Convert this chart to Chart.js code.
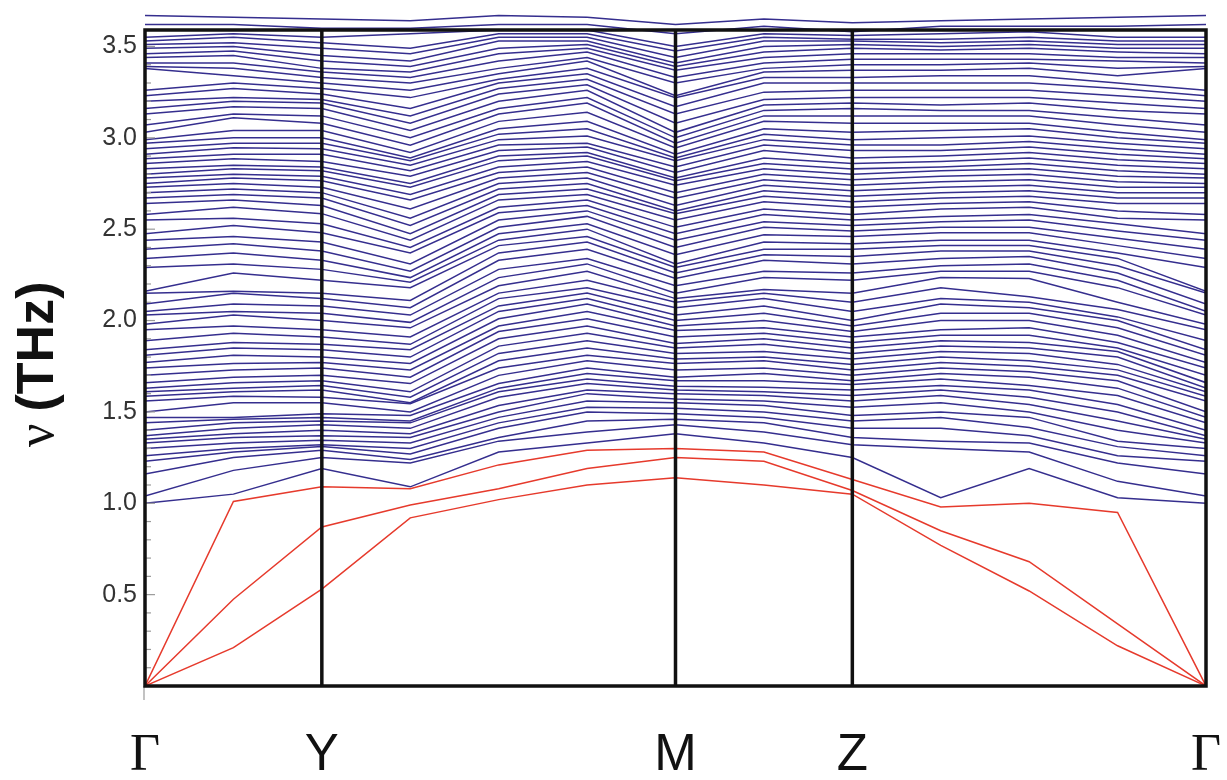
<!DOCTYPE html>
<html>
<head>
<meta charset="utf-8">
<title>Phonon dispersion</title>
<script src="https://cdn.jsdelivr.net/npm/chart.js@4.4.1/dist/chart.umd.min.js"></script>
<style>
  html, body { margin: 0; padding: 0; background: #fff; }
</style>
</head>
<body>
<canvas id="bands" width="1227" height="780"></canvas>
<script>
// k-path: 13 points, Γ - Y - M - Z - Γ
const kPos = [0, 1, 2, 3, 4, 5, 6, 7, 8, 9, 10, 11, 12];
const kTicks = [0, 2, 6, 8, 12];
const kLabels = ['Γ', 'Y', 'M', 'Z', 'Γ'];
const yTicks = [0.5, 1.0, 1.5, 2.0, 2.5, 3.0, 3.5];

// acoustic branches (THz)
const acousticA = [0, 1.01, 1.09, 1.08, 1.21, 1.29, 1.30, 1.28, 1.13, 0.98, 1.00, 0.95, 0];
const acousticB = [0, 0.475, 0.87, 0.99, 1.08, 1.19, 1.25, 1.23, 1.07, 0.85, 0.68, 0.34, 0];
const acousticC = [0, 0.21, 0.53, 0.92, 1.02, 1.10, 1.14, 1.10, 1.05, 0.77, 0.52, 0.22, 0];

// optical branches, frequencies (THz) at each k point, low -> high
const fGamma = [1.00, 1.04, 1.16, 1.23, 1.26, 1.30, 1.33, 1.35, 1.37, 1.40,
  1.44, 1.47, 1.50, 1.56, 1.585, 1.61, 1.63, 1.66, 1.70, 1.74,
  1.77, 1.81, 1.84, 1.89, 1.95, 1.98, 2.03, 2.05, 2.09, 2.15,
  2.16, 2.29, 2.34, 2.39, 2.44, 2.475, 2.55, 2.58, 2.64, 2.67,
  2.70, 2.73, 2.75, 2.78, 2.80, 2.83, 2.86, 2.885, 2.91, 2.94,
  2.97, 2.99, 3.03, 3.07, 3.13, 3.16, 3.20, 3.23, 3.26, 3.38,
  3.39, 3.41, 3.44, 3.46, 3.49, 3.51, 3.53, 3.55, 3.62, 3.67];
const fK1 = [1.05, 1.18, 1.25, 1.28, 1.30, 1.33, 1.36, 1.38, 1.41, 1.44,
  1.46, 1.47, 1.55, 1.585, 1.61, 1.63, 1.66, 1.69, 1.73, 1.765,
  1.81, 1.85, 1.88, 1.93, 1.97, 2.03, 2.05, 2.09, 2.15, 2.16,
  2.26, 2.31, 2.37, 2.42, 2.46, 2.52, 2.56, 2.62, 2.66, 2.69,
  2.72, 2.75, 2.78, 2.80, 2.83, 2.85, 2.885, 2.91, 2.945, 2.97,
  3.00, 3.04, 3.11, 3.13, 3.17, 3.20, 3.22, 3.27, 3.30, 3.34,
  3.38, 3.41, 3.45, 3.475, 3.50, 3.52, 3.55, 3.57, 3.62, 3.66];
const fY = [1.19, 1.25, 1.29, 1.31, 1.32, 1.345, 1.37, 1.40, 1.43, 1.45,
  1.47, 1.49, 1.55, 1.58, 1.62, 1.645, 1.67, 1.70, 1.74, 1.77,
  1.80, 1.84, 1.87, 1.91, 1.95, 2.00, 2.04, 2.08, 2.12, 2.15,
  2.22, 2.28, 2.33, 2.38, 2.43, 2.48, 2.53, 2.585, 2.63, 2.67,
  2.70, 2.73, 2.765, 2.79, 2.82, 2.84, 2.87, 2.91, 2.94, 2.97,
  3.00, 3.04, 3.08, 3.12, 3.16, 3.19, 3.21, 3.24, 3.27, 3.30,
  3.33, 3.36, 3.38, 3.42, 3.45, 3.49, 3.52, 3.55, 3.60, 3.65];
const fK3 = [1.09, 1.22, 1.24, 1.27, 1.30, 1.33, 1.36, 1.38, 1.41, 1.44,
  1.45, 1.48, 1.50, 1.545, 1.55, 1.58, 1.61, 1.655, 1.69, 1.73,
  1.765, 1.80, 1.84, 1.87, 1.91, 1.96, 1.99, 2.03, 2.07, 2.11,
  2.18, 2.21, 2.235, 2.27, 2.31, 2.37, 2.40, 2.44, 2.475, 2.52,
  2.56, 2.61, 2.66, 2.69, 2.73, 2.75, 2.79, 2.82, 2.85, 2.875,
  2.89, 2.92, 2.96, 3.00, 3.04, 3.08, 3.12, 3.16, 3.22, 3.26,
  3.30, 3.33, 3.36, 3.39, 3.42, 3.46, 3.49, 3.57, 3.60, 3.64];
const fK4 = [1.28, 1.34, 1.36, 1.41, 1.44, 1.47, 1.50, 1.535, 1.58, 1.61,
  1.63, 1.655, 1.70, 1.74, 1.78, 1.82, 1.86, 1.90, 1.94, 1.97,
  2.01, 2.05, 2.08, 2.12, 2.15, 2.19, 2.235, 2.28, 2.33, 2.37,
  2.41, 2.44, 2.475, 2.51, 2.55, 2.59, 2.62, 2.66, 2.69, 2.72,
  2.75, 2.78, 2.81, 2.84, 2.875, 2.90, 2.93, 2.96, 2.99, 3.02,
  3.05, 3.09, 3.13, 3.16, 3.20, 3.24, 3.27, 3.30, 3.32, 3.35,
  3.38, 3.42, 3.46, 3.49, 3.53, 3.55, 3.57, 3.59, 3.62, 3.67];
const fK5 = [1.33, 1.39, 1.45, 1.50, 1.525, 1.56, 1.60, 1.62, 1.655, 1.68,
  1.71, 1.74, 1.78, 1.81, 1.85, 1.89, 1.93, 1.97, 2.01, 2.05,
  2.09, 2.12, 2.15, 2.18, 2.22, 2.27, 2.31, 2.34, 2.39, 2.43,
  2.46, 2.50, 2.53, 2.57, 2.60, 2.63, 2.66, 2.69, 2.72, 2.75,
  2.78, 2.81, 2.84, 2.87, 2.90, 2.92, 2.95, 2.97, 3.01, 3.05,
  3.09, 3.14, 3.19, 3.22, 3.26, 3.29, 3.32, 3.35, 3.38, 3.42,
  3.44, 3.47, 3.49, 3.51, 3.53, 3.55, 3.57, 3.59, 3.62, 3.66];
const fM = [1.38, 1.43, 1.46, 1.49, 1.52, 1.55, 1.57, 1.60, 1.62, 1.64,
  1.67, 1.69, 1.73, 1.765, 1.79, 1.82, 1.85, 1.875, 1.91, 1.945,
  1.97, 2.00, 2.03, 2.07, 2.10, 2.12, 2.15, 2.19, 2.23, 2.26,
  2.29, 2.31, 2.36, 2.40, 2.44, 2.475, 2.51, 2.55, 2.585, 2.60,
  2.63, 2.67, 2.70, 2.74, 2.765, 2.78, 2.81, 2.84, 2.875, 2.89,
  2.91, 2.945, 2.97, 3.00, 3.03, 3.08, 3.13, 3.17, 3.22, 3.23,
  3.30, 3.33, 3.37, 3.39, 3.41, 3.44, 3.475, 3.50, 3.57, 3.62];
const fK7 = [1.33, 1.39, 1.44, 1.47, 1.50, 1.535, 1.56, 1.59, 1.61, 1.635,
  1.67, 1.71, 1.74, 1.78, 1.80, 1.83, 1.87, 1.90, 1.93, 1.96,
  2.00, 2.04, 2.08, 2.12, 2.15, 2.17, 2.235, 2.27, 2.33, 2.36,
  2.39, 2.43, 2.47, 2.51, 2.54, 2.58, 2.61, 2.65, 2.68, 2.71,
  2.74, 2.77, 2.80, 2.83, 2.86, 2.89, 2.93, 2.96, 2.99, 3.02,
  3.05, 3.09, 3.12, 3.15, 3.18, 3.21, 3.25, 3.30, 3.33, 3.36,
  3.38, 3.41, 3.44, 3.47, 3.50, 3.53, 3.55, 3.57, 3.61, 3.65];
const fZ = [1.25, 1.32, 1.36, 1.41, 1.45, 1.48, 1.525, 1.56, 1.59, 1.62,
  1.65, 1.67, 1.70, 1.73, 1.76, 1.79, 1.82, 1.85, 1.88, 1.91,
  1.94, 1.97, 2.00, 2.05, 2.10, 2.15, 2.22, 2.26, 2.31, 2.35,
  2.39, 2.42, 2.46, 2.49, 2.52, 2.55, 2.58, 2.62, 2.65, 2.68,
  2.71, 2.74, 2.77, 2.80, 2.83, 2.86, 2.89, 2.93, 2.96, 2.99,
  3.03, 3.08, 3.12, 3.16, 3.19, 3.22, 3.26, 3.30, 3.33, 3.37,
  3.40, 3.43, 3.46, 3.49, 3.51, 3.53, 3.54, 3.56, 3.58, 3.63];
const fK9 = [1.03, 1.30, 1.34, 1.41, 1.47, 1.50, 1.55, 1.59, 1.62, 1.645,
  1.68, 1.71, 1.74, 1.77, 1.80, 1.83, 1.86, 1.89, 1.92, 1.95,
  2.00, 2.04, 2.09, 2.12, 2.18, 2.235, 2.27, 2.30, 2.34, 2.38,
  2.41, 2.44, 2.48, 2.51, 2.54, 2.57, 2.61, 2.64, 2.67, 2.70,
  2.73, 2.76, 2.79, 2.82, 2.84, 2.87, 2.90, 2.93, 2.96, 3.00,
  3.04, 3.08, 3.12, 3.15, 3.18, 3.22, 3.26, 3.30, 3.34, 3.37,
  3.40, 3.43, 3.46, 3.48, 3.50, 3.52, 3.54, 3.57, 3.61, 3.64];
const fK10 = [1.19, 1.28, 1.33, 1.37, 1.415, 1.47, 1.50, 1.54, 1.58, 1.62,
  1.645, 1.69, 1.72, 1.75, 1.78, 1.82, 1.85, 1.88, 1.92, 1.96,
  2.00, 2.04, 2.07, 2.10, 2.13, 2.23, 2.27, 2.31, 2.35, 2.38,
  2.41, 2.44, 2.48, 2.51, 2.55, 2.58, 2.62, 2.65, 2.68, 2.71,
  2.74, 2.77, 2.80, 2.83, 2.86, 2.89, 2.92, 2.95, 2.98, 3.01,
  3.05, 3.08, 3.12, 3.15, 3.19, 3.22, 3.26, 3.30, 3.34, 3.38,
  3.41, 3.43, 3.46, 3.49, 3.51, 3.53, 3.55, 3.58, 3.61, 3.65];
const fK11 = [1.03, 1.12, 1.22, 1.26, 1.31, 1.34, 1.40, 1.45, 1.50, 1.54,
  1.59, 1.63, 1.67, 1.70, 1.73, 1.76, 1.80, 1.83, 1.85, 1.88,
  1.92, 1.96, 2.00, 2.02, 2.06, 2.10, 2.18, 2.22, 2.26, 2.30,
  2.34, 2.37, 2.41, 2.45, 2.49, 2.53, 2.56, 2.60, 2.64, 2.67,
  2.70, 2.73, 2.76, 2.79, 2.82, 2.85, 2.88, 2.91, 2.94, 2.97,
  3.00, 3.03, 3.07, 3.11, 3.15, 3.19, 3.23, 3.27, 3.30, 3.34,
  3.38, 3.42, 3.44, 3.47, 3.49, 3.51, 3.53, 3.55, 3.61, 3.66];
const fGammaEnd = [1.00, 1.04, 1.16, 1.23, 1.26, 1.30, 1.33, 1.35, 1.37, 1.40,
  1.44, 1.47, 1.50, 1.56, 1.585, 1.61, 1.63, 1.66, 1.70, 1.74,
  1.77, 1.81, 1.84, 1.89, 1.95, 1.98, 2.03, 2.05, 2.09, 2.15,
  2.16, 2.29, 2.34, 2.39, 2.44, 2.475, 2.55, 2.58, 2.64, 2.67,
  2.70, 2.73, 2.75, 2.78, 2.80, 2.83, 2.86, 2.885, 2.91, 2.94,
  2.97, 2.99, 3.03, 3.07, 3.13, 3.16, 3.20, 3.23, 3.26, 3.38,
  3.39, 3.41, 3.44, 3.46, 3.49, 3.51, 3.53, 3.55, 3.62, 3.67];

const columns = [fGamma, fK1, fY, fK3, fK4, fK5, fM, fK7, fZ, fK9, fK10, fK11, fGammaEnd];

const BLUE = '#352e8e';
const RED = '#e63a2c';

const datasets = [];
// acoustic first so they end up on top
[acousticA, acousticB, acousticC].forEach(arr => {
  datasets.push({
    data: arr.map((v, i) => ({ x: kPos[i], y: v })),
    borderColor: RED,
    borderWidth: 1.5,
    pointRadius: 0,
    tension: 0,
    fill: false
  });
});
for (let b = 0; b < fGamma.length; b++) {
  datasets.push({
    data: columns.map((col, i) => ({ x: kPos[i], y: col[b] })),
    borderColor: BLUE,
    borderWidth: 1.5,
    pointRadius: 0,
    tension: 0,
    fill: false,
    clip: { left: 0, top: 18, right: 0, bottom: 0 }  // top bands poke out above the frame
  });
}

// рамка, линии высокосимметричных точек и мелкие засечки на оси
const framePlugin = {
  id: 'frame',
  afterDatasetsDraw(chart) {
    const { ctx, chartArea: a, scales: { x, y } } = chart;
    ctx.save();
    ctx.strokeStyle = '#9a9a9a';
    ctx.lineWidth = 1.2;
    for (let i = 1; i <= 35; i++) {
      const py = y.getPixelForValue(i / 10);
      const len = i % 5 === 0 ? 10 : 6;
      ctx.beginPath();
      ctx.moveTo(a.left, py);
      ctx.lineTo(a.left + len, py);
      ctx.stroke();
    }
    ctx.beginPath();
    ctx.moveTo(a.left - 1, a.bottom);
    ctx.lineTo(a.left - 1, a.bottom + 14);
    ctx.stroke();

    ctx.strokeStyle = '#111';
    ctx.lineWidth = 3.5;
    kTicks.slice(1, -1).forEach(k => {
      const px = x.getPixelForValue(k);
      ctx.beginPath();
      ctx.moveTo(px, a.top);
      ctx.lineTo(px, a.bottom);
      ctx.stroke();
    });
    ctx.strokeRect(a.left, a.top, a.right - a.left, a.bottom - a.top);
    ctx.restore();
  },
  afterDraw(chart) {
    // y-axis title: serif nu + bold sans "(THz)"
    const ctx = chart.ctx;
    ctx.save();
    ctx.translate(53, 447);
    ctx.rotate(-Math.PI / 2);
    ctx.fillStyle = '#111';
    ctx.textBaseline = 'alphabetic';
    ctx.textAlign = 'left';
    ctx.font = '52px "Liberation Serif"';
    ctx.fillText('ν', 0, 0);
    const w = ctx.measureText('ν').width;
    ctx.font = 'bold 52px "Liberation Sans"';
    ctx.fillText('(THz)', w + 12, 0);
    ctx.restore();
  }
};

new Chart(document.getElementById('bands'), {
  type: 'line',
  data: { datasets: datasets },
  options: {
    responsive: false,
    animation: false,
    devicePixelRatio: 1,
    layout: { padding: { top: 30, right: 21, left: 0, bottom: 0 } },
    plugins: {
      legend: { display: false },
      tooltip: { enabled: false }
    },
    scales: {
      x: {
        type: 'linear',
        min: 0,
        max: 12,
        grid: { display: false, drawTicks: false },
        border: { display: false },
        afterBuildTicks: (s) => { s.ticks = kTicks.map(v => ({ value: v })); },
        afterFit: (s) => {
          s.height = 94;
          s.paddingLeft = 0;
          s.paddingRight = 0;
        },
        ticks: {
          autoSkip: false,
          maxRotation: 0,
          padding: 39,
          color: '#111',
          callback: (v) => kLabels[kTicks.indexOf(v)],
          font: (ctx) => {
            const lbl = kLabels[kTicks.indexOf(ctx.tick ? ctx.tick.value : -1)];
            return lbl === 'Γ'
              ? { family: '"Liberation Serif"', size: 52 }
              : { family: '"Liberation Sans"', size: 51 };
          }
        }
      },
      y: {
        min: 0,
        max: 3.59,
        grid: { display: false, drawTicks: false },
        border: { display: false },
        afterBuildTicks: (s) => { s.ticks = yTicks.map(v => ({ value: v })); },
        afterFit: (s) => { s.width = 145; },
        ticks: {
          autoSkip: false,
          padding: 8,
          color: '#333',
          font: { family: '"Liberation Sans"', size: 25 },
          callback: (v) => v.toFixed(1)
        }
      }
    }
  },
  plugins: [framePlugin]
});
</script>
</body>
</html>
